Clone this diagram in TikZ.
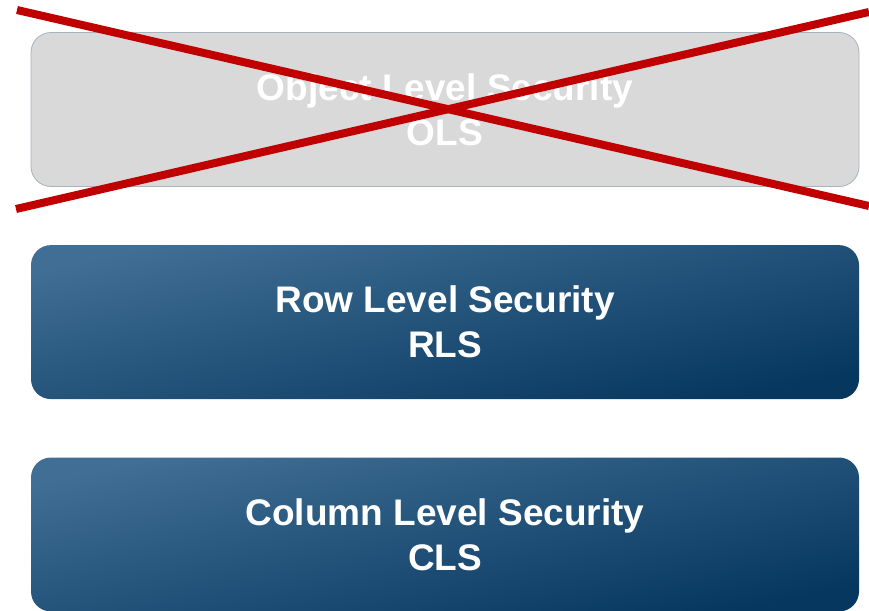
\documentclass[tikz,border=0pt]{standalone}
\usepackage{fontspec}
\setmainfont{Liberation Sans}
\usepackage{xcolor}
\usepackage{tikz}
\usetikzlibrary{positioning}
\definecolor{olsgray}{RGB}{217,217,217}
\definecolor{olsedge}{RGB}{168,178,192}
\definecolor{seclight}{RGB}{64,110,149}
\definecolor{secdark}{RGB}{6,55,94}
\definecolor{crossred}{RGB}{192,0,0}
\tikzset{
  secbox/.style={rounded corners=20pt, minimum width=828pt, minimum height=154pt, align=center, text=white, inner sep=0pt, font=\fontsize{37}{45}\selectfont\bfseries},
  rlsbox/.style={secbox, top color=seclight, bottom color=secdark, shading angle=12, draw=none},
  olsbox/.style={secbox, fill=olsgray, draw=olsedge, line width=0.8pt},
  cross/.style={draw=crossred, line width=8pt},
}
\begin{document}
\begin{tikzpicture}[x=1pt, y=-1pt, node distance=58pt]
    \useasboundingbox (0,0) rectangle (869,610);
    \node[olsbox] (ols) at (445,109.5) {Object Level Security\\OLS};
    \node[rlsbox, below=of ols] (rls) {Row Level Security\\RLS};
    \node[rlsbox, below=of rls] (cls) {Column Level Security\\CLS};
    % the cross over OLS
    \coordinate (tl) at (17,10);
    \coordinate (br) at (869,206);
    \coordinate (bl) at (16,209);
    \coordinate (tr) at (869,12);
    \draw[cross] (tl) -- (br);
    \draw[cross] (bl) -- (tr);
  \end{tikzpicture}
\end{document}
